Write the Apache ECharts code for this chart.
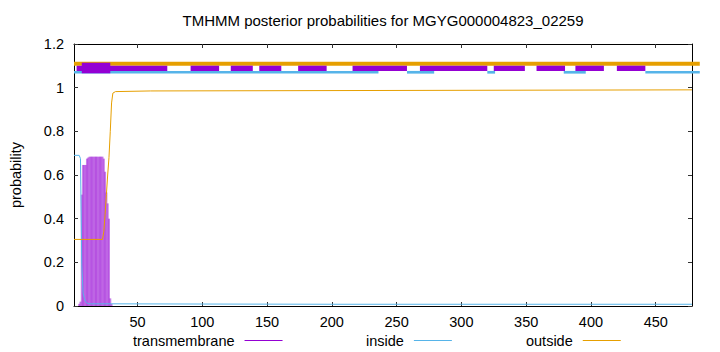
<!DOCTYPE html>
<html>
<head>
<meta charset="utf-8">
<script src="https://cdn.jsdelivr.net/npm/echarts@6/dist/echarts.min.js"></script>
<style>html,body{margin:0;padding:0;background:#fff;}#c{width:720px;height:352px;}</style>
</head>
<body>
<div id="c"></div>
<script>
// ---- data ----
const titleText = 'TMHMM posterior probabilities for MGYG000004823_02259';
const xTicks = [50, 100, 150, 200, 250, 300, 350, 400, 450];
const seriesNames = ['transmembrane', 'inside', 'outside'];

// transmembrane posterior (per residue)
const tmResidues = [5, 6, 7, 8, 9, 10, 11, 12, 13, 14, 15, 16, 17, 18, 19, 20, 21, 22, 23, 24, 25, 26, 27, 28, 29, 30];
const tmValues   = [0.01, 0.02, 0.51, 0.646, 0.646, 0.646, 0.675, 0.68, 0.684, 0.684, 0.684, 0.684, 0.684, 0.684, 0.684, 0.684, 0.684, 0.684, 0.684, 0.675, 0.615, 0.52, 0.47, 0.40, 0.035, 0.01];

// inside posterior (residue, value)
const insideX = [1, 5, 6, 7, 8, 9, 10, 11, 12, 14, 30, 100, 200, 300, 400, 478];
const insideY = [0.69, 0.69, 0.675, 0.19, 0.06, 0.035, 0.02, 0.013, 0.011, 0.01, 0.01, 0.009, 0.008, 0.008, 0.008, 0.008];

// outside posterior (residue, value)
const outsideX = [1, 23, 24, 25, 26, 27, 28, 29, 30, 31, 33, 60, 478];
const outsideY = [0.305, 0.305, 0.34, 0.42, 0.51, 0.6, 0.68, 0.8, 0.93, 0.975, 0.982, 0.985, 0.99];

// topology bars drawn above the plot (residue start, residue end)
const outsideBand = [[1, 484]];
const insideBand = [[1, 236], [258, 279], [320, 326], [379, 396], [442, 484]];
const tmBand = [[3, 73], [91, 113], [122, 139], [144, 161], [174, 196], [216, 258], [268, 320], [325, 349], [358, 380], [388, 410], [420, 442]];
const tmHelix = [[7, 29]];

// ---- chart ----
const FONT = "'Liberation Sans', Arial, sans-serif";
const C_TM = '#9400d3', C_IN = '#56b4e9', C_OUT = '#e69f00';
const legendColors = [C_TM, C_IN, C_OUT];
const legendLeft = [133, 366, 526];

function bandRenderer(level, thickness, color) {
  return function (params, api) {
    const a = api.coord([api.value(0), level]);
    const b = api.coord([api.value(1), level]);
    return {
      type: 'rect',
      shape: { x: a[0], y: a[1] - thickness / 2, width: b[0] - a[0], height: thickness },
      style: { fill: color }
    };
  };
}

const chart = echarts.init(document.getElementById('c'), null, { renderer: 'svg' });
const axisCommon = {
  min: 1, max: 478,
  axisLine: { show: true, onZero: false, lineStyle: { color: '#000', width: 1 } },
  splitLine: { show: false }
};
const option = {
  animation: false,
  backgroundColor: '#fff',
  textStyle: { fontFamily: FONT },
  graphic: [{
    type: 'text', x: 383, y: 20,
    style: { text: titleText, textAlign: 'center', textVerticalAlign: 'middle', font: '15px ' + FONT, fill: '#000' }
  }],
  grid: { left: 74, right: 28, top: 44, bottom: 46 },
  xAxis: [
    Object.assign({}, axisCommon, {
      type: 'value', position: 'bottom',
      axisTick: { show: true, inside: true, length: 4, customValues: xTicks, lineStyle: { color: '#333' } },
      axisLabel: { show: true, customValues: xTicks, margin: 8, fontSize: 14.5, color: '#000', fontFamily: FONT }
    }),
    Object.assign({}, axisCommon, {
      type: 'value', position: 'top',
      axisTick: { show: true, inside: true, length: 4, customValues: xTicks, lineStyle: { color: '#333' } },
      axisLabel: { show: false }
    })
  ],
  yAxis: [
    {
      type: 'value', min: 0, max: 1.2, interval: 0.2, position: 'left',
      name: 'probability', nameLocation: 'middle', nameGap: 51, nameRotate: 90,
      nameTextStyle: { fontSize: 14.5, color: '#000', fontFamily: FONT },
      axisLine: { show: true, lineStyle: { color: '#000' } },
      axisTick: { show: true, inside: true, length: 4, lineStyle: { color: '#333' } },
      axisLabel: { margin: 10, fontSize: 14.5, color: '#000', fontFamily: FONT },
      splitLine: { show: false }
    },
    {
      type: 'value', min: 0, max: 1.2, interval: 0.2, position: 'right',
      axisLine: { show: true, lineStyle: { color: '#000' } },
      axisTick: { show: true, inside: true, length: 4, lineStyle: { color: '#333' } },
      axisLabel: { show: false },
      splitLine: { show: false }
    }
  ],
  legend: seriesNames.map((n, i) => ({
    data: [{
      name: n, icon: 'rect',
      itemStyle: { color: legendColors[i], borderColor: legendColors[i], borderWidth: 0, opacity: 1 }
    }],
    left: legendLeft[i], top: 333, padding: 0, align: 'right',
    itemWidth: 38, itemHeight: 1, selectedMode: false,
    textStyle: { fontSize: 14.5, color: '#000', fontFamily: FONT, padding: [0, 5, 0, 0] }
  })),
  series: [
    {
      name: seriesNames[0], type: 'bar', barWidth: 2,
      data: tmResidues.map((r, i) => [r, tmValues[i]]),
      itemStyle: { color: C_TM, opacity: 0.5 }, z: 2
    },
    {
      name: seriesNames[1], type: 'line', showSymbol: false, symbol: 'none',
      data: insideX.map((x, i) => [x, insideY[i]]),
      lineStyle: { color: C_IN, width: 1 }, itemStyle: { color: C_IN }, z: 3
    },
    {
      name: seriesNames[2], type: 'line', showSymbol: false, symbol: 'none',
      data: outsideX.map((x, i) => [x, outsideY[i]]),
      lineStyle: { color: C_OUT, width: 1 }, itemStyle: { color: C_OUT }, z: 3
    },
    { type: 'custom', clip: false, data: outsideBand, encode: { x: [0, 1] }, renderItem: bandRenderer(1.11, 4, C_OUT), z: 4, silent: true },
    { type: 'custom', clip: false, data: insideBand, encode: { x: [0, 1] }, renderItem: bandRenderer(1.0705, 2.7, C_IN), z: 5, silent: true },
    { type: 'custom', clip: false, data: tmBand, encode: { x: [0, 1] }, renderItem: bandRenderer(1.0885, 5.3, C_TM), z: 6, silent: true },
    { type: 'custom', clip: false, data: tmHelix, encode: { x: [0, 1] }, renderItem: bandRenderer(1.09, 10.6, C_TM), z: 7, silent: true }
  ]
};
chart.setOption(option);
</script>
</body>
</html>
